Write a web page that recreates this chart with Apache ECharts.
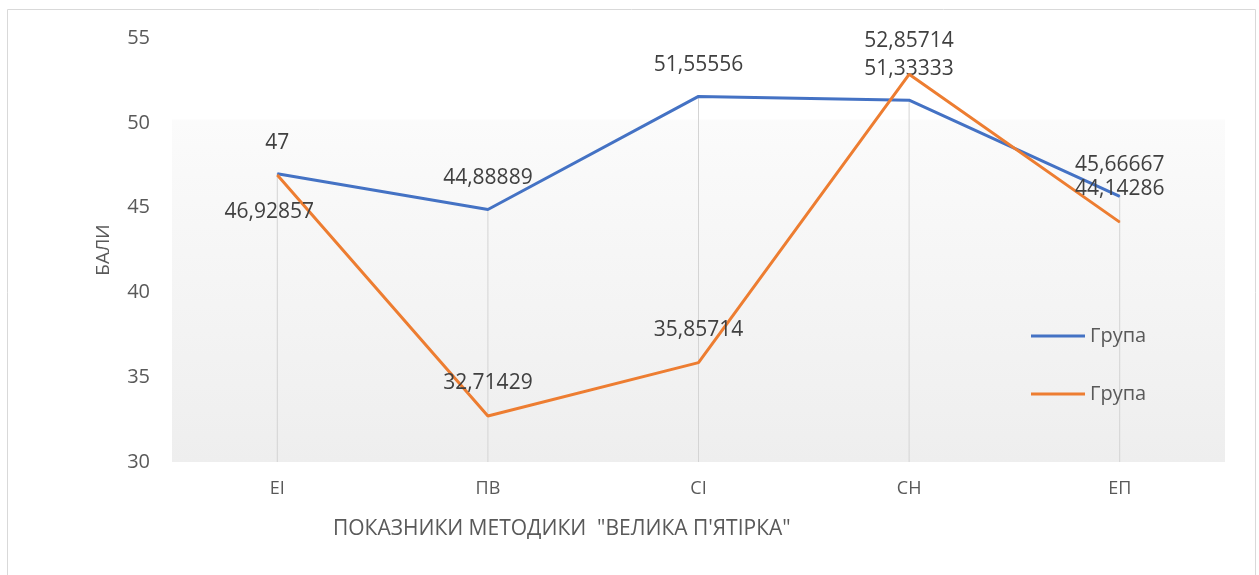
<!DOCTYPE html>
<html>
<head>
<meta charset="utf-8">
<script src="https://cdn.jsdelivr.net/npm/echarts@6/dist/echarts.min.js"></script>
<style>
html,body{margin:0;padding:0;background:#fff;}
#chart{width:1259px;height:575px;}
</style>
</head>
<body>
<div id="chart"></div>
<script>
const categories = ['ЕІ', 'ПВ', 'СІ', 'СН', 'ЕП'];
const group1 = [47, 44.88889, 51.55556, 51.33333, 45.66667];
const group2 = [46.92857, 32.71429, 35.85714, 52.85714, 44.14286];
const legendLabel = 'Група';
const seriesNames = ['Група 1', 'Група 2'];
const yTicks = { min: 30, max: 55, interval: 5 };
const xTitle = 'ПОКАЗНИКИ МЕТОДИКИ  "ВЕЛИКА П\'ЯТІРКА"';
const yTitle = 'БАЛИ';

const FONT = '"Open Sans", sans-serif';
const fmt = v => String(v).replace('.', ',');

const chart = echarts.init(document.getElementById('chart'), null, { renderer: 'canvas' });

const labelBase = {
  show: true, position: 'top', distance: 20,
  fontFamily: FONT, fontSize: 21, color: '#404040',
  formatter: p => fmt(p.value)
};

const group2Data = group2.map((v, i) => {
  if (i === 0) {
    return { value: v, label: { position: 'bottom', distance: 26, offset: [-8, 0] } };
  }
  return v;
});

chart.setOption({
  animation: false,
  graphic: [{
    type: 'rect',
    shape: { x: 7.5, y: 9.5, width: 1248, height: 580 },
    style: { fill: 'none', stroke: '#d9d9d9', lineWidth: 1 },
    z: -10, silent: true
  }],
  title: {
    text: xTitle,
    left: 333, top: 519, padding: 0,
    textStyle: { fontFamily: FONT, fontSize: 21, fontWeight: 'normal', color: '#595959' }
  },
  legend: {
    orient: 'vertical',
    left: 1031, top: 326, padding: 0,
    icon: 'rect',
    itemWidth: 54, itemHeight: 3, itemGap: 38,
    data: seriesNames,
    formatter: () => legendLabel,
    textStyle: { fontFamily: FONT, fontSize: 20, color: '#595959', lineHeight: 20 }
  },
  grid: {
    left: 172, right: 34, top: 38, bottom: 113,
    show: true, borderWidth: 0,
    backgroundColor: {
      type: 'linear', x: 0, y: 0, x2: 0, y2: 1,
      colorStops: [
        { offset: 0, color: '#ffffff' },
        { offset: 0.19, color: '#ffffff' },
        { offset: 0.195, color: '#fbfbfb' },
        { offset: 1, color: '#eeeeee' }
      ]
    }
  },
  xAxis: {
    type: 'category',
    data: categories,
    boundaryGap: true,
    axisLine: { show: false },
    axisTick: { show: false },
    splitLine: { show: false },
    axisLabel: { margin: 18, fontFamily: FONT, fontSize: 18, color: '#595959' }
  },
  yAxis: {
    type: 'value',
    min: yTicks.min, max: yTicks.max, interval: yTicks.interval,
    name: yTitle,
    nameLocation: 'middle',
    nameGap: 59,
    nameRotate: 90,
    nameTextStyle: { fontFamily: FONT, fontSize: 19, color: '#595959' },
    axisLine: { show: false },
    axisTick: { show: false },
    splitLine: { show: false },
    axisLabel: { margin: 22, fontFamily: FONT, fontSize: 20, color: '#595959' }
  },
  series: [
    {
      name: 'drop',
      type: 'bar',
      data: group1,
      barWidth: 1,
      clip: true,
      silent: true,
      itemStyle: { color: '#d4d4d4' },
      z: 1
    },
    {
      name: seriesNames[0],
      type: 'line',
      data: group1,
      symbol: 'circle',
      symbolSize: 1,
      lineStyle: { color: '#4472C4', width: 3 },
      itemStyle: { color: '#4472C4' },
      label: labelBase,
      z: 3
    },
    {
      name: seriesNames[1],
      type: 'line',
      data: group2Data,
      symbol: 'circle',
      symbolSize: 1,
      lineStyle: { color: '#ED7D31', width: 3 },
      itemStyle: { color: '#ED7D31' },
      label: Object.assign({}, labelBase, { distance: 22 }),
      z: 4
    }
  ]
});
</script>
</body>
</html>
